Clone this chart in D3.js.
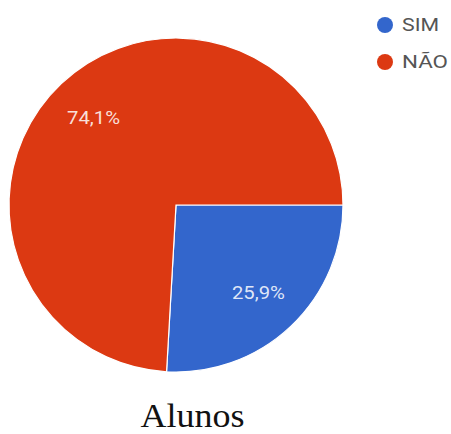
<!DOCTYPE html>
<html><head><meta charset="utf-8">
<script src="https://cdn.jsdelivr.net/npm/d3@7"></script>
<style>html,body{margin:0;padding:0;background:#fff;}</style>
</head><body>
<svg id="c" width="451" height="434"></svg>
<script>
const categories = ["SIM", "NÃO"];
const values = [25.9, 74.1];
const labels = ["25,9%", "74,1%"];
const colors = ["#3366cc", "#dc3912"];
const title = "Alunos";

const svg = d3.select("#c");
const cx = 176, cy = 205, R = 167;
const g = svg.append("g").attr("transform", `translate(${cx},${cy})`);
const pie = d3.pie().sort(null).startAngle(Math.PI/2).endAngle(Math.PI/2 + 2*Math.PI);
const arcs = pie(values);
const arc = d3.arc().innerRadius(0).outerRadius(R);
g.selectAll("path").data(arcs).join("path")
  .attr("d", arc).attr("fill", (d,i)=>colors[i])
  .attr("stroke", "#fff").attr("stroke-width", 1.2);
const lab = d3.arc().innerRadius(120).outerRadius(120);
g.selectAll("text.l").data(arcs).join("text").attr("class","l")
  .attr("transform", d => `translate(${lab.centroid(d)})`)
  .attr("text-anchor","middle").attr("dy","0.36em")
  .attr("font-family","Roboto, Arial, sans-serif").attr("font-size",18)
  .attr("fill","#fff").attr("fill-opacity",0.85)
  .attr("textLength", 53).attr("lengthAdjust","spacingAndGlyphs")
  .text((d,i)=>labels[i]);

const lg = svg.append("g");
categories.forEach((c,i)=>{
  const y = 25 + i*37;
  lg.append("circle").attr("cx",385).attr("cy",y).attr("r",8).attr("fill",colors[i]);
  lg.append("text").attr("x",402).attr("y",y).attr("dy","0.36em")
    .attr("font-family","Roboto, Arial, sans-serif").attr("font-size",18)
    .attr("fill","#555")
    .attr("textLength", i===0?37:46).attr("lengthAdjust","spacingAndGlyphs")
    .text(c);
});

svg.append("text").attr("x",192.5).attr("y",427).attr("text-anchor","middle")
  .attr("font-family","'Liberation Serif','Times New Roman',serif").attr("font-size",33)
  .attr("fill","#111")
  .attr("textLength",104).attr("lengthAdjust","spacingAndGlyphs")
  .text(title);
</script>
</body></html>
